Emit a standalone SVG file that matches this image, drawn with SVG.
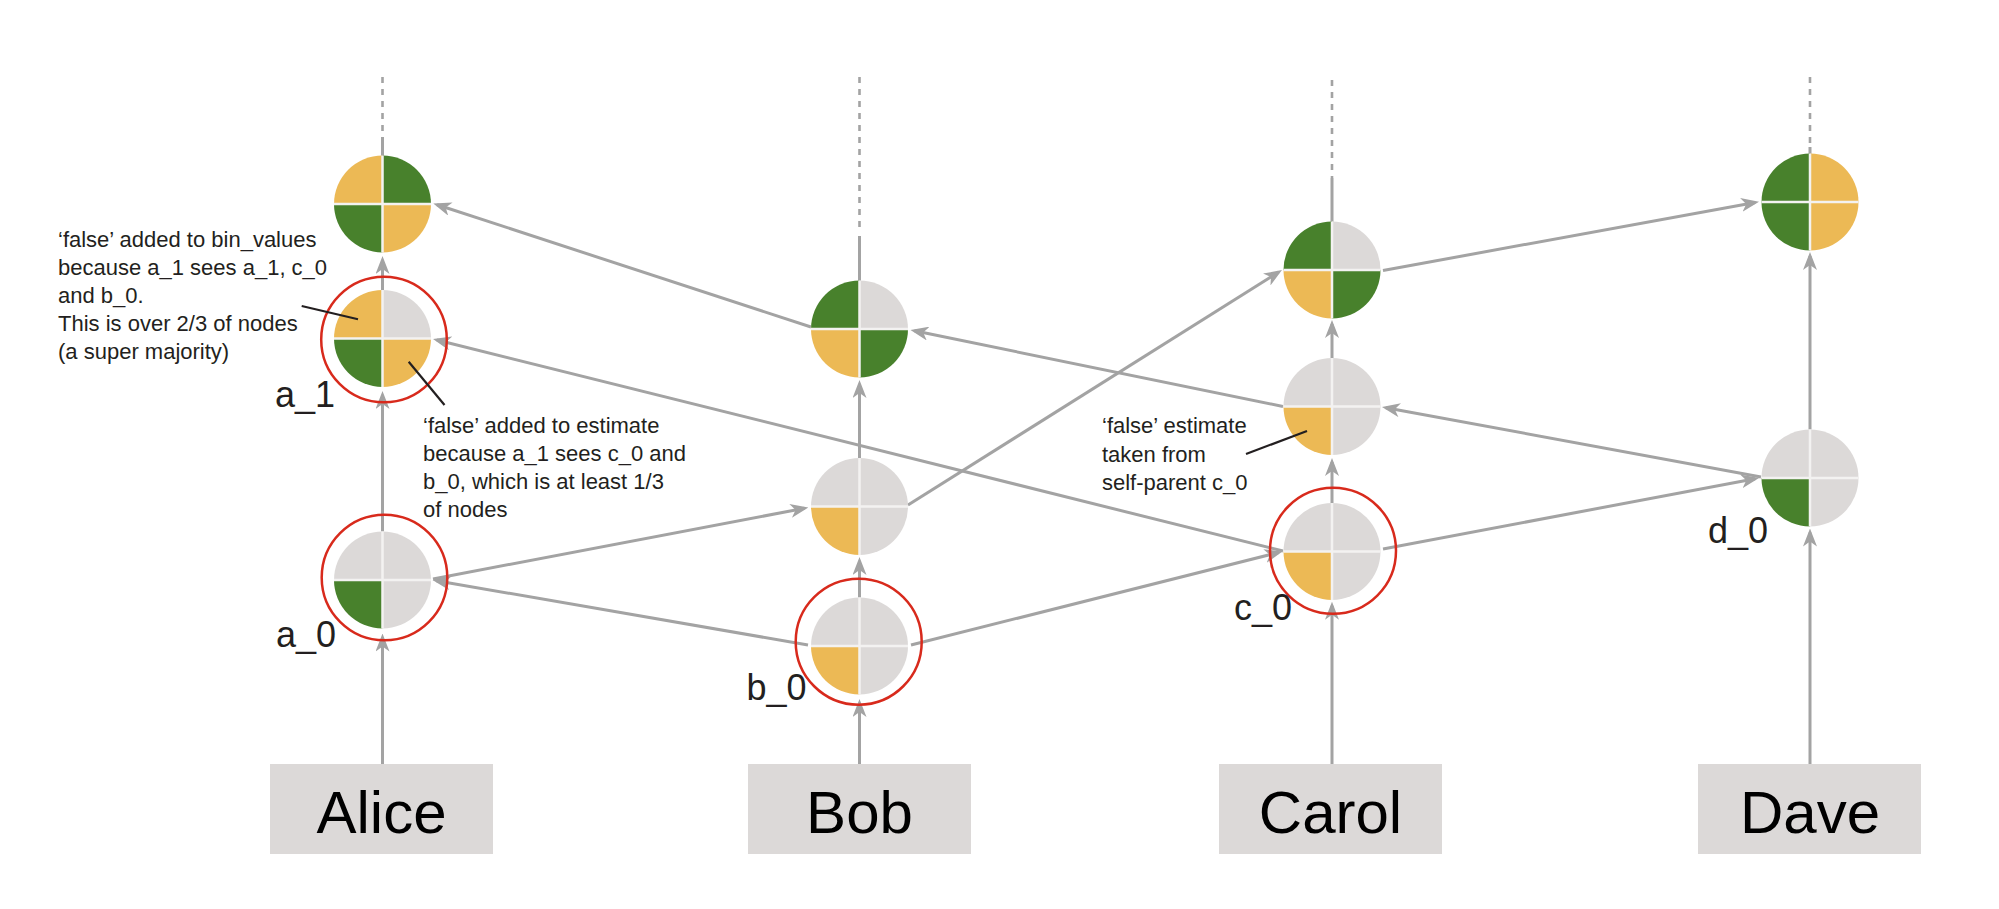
<svg xmlns="http://www.w3.org/2000/svg" width="1999" height="909" viewBox="0 0 1999 909">
<style>
.bg{fill:#ffffff}
.box{fill:#dcd9d8}
.boxtxt{font-family:"Liberation Sans",Arial,sans-serif;font-size:60px;fill:#000000;text-anchor:middle}
.lbl{font-family:"Liberation Sans",Arial,sans-serif;font-size:36px;fill:#231f20}
.note{font-family:"Liberation Sans",Arial,sans-serif;font-size:22px;fill:#231f20}
.edge{stroke:#a3a3a3;stroke-width:3;fill:none}
.arr{marker-end:url(#ah)}
.dash{stroke:#a3a3a3;stroke-width:2.6;stroke-dasharray:6 6;fill:none}
.gold{fill:#ecb955}
.green{fill:#48812c}
.grey{fill:#dcd9d8}
.ring{fill:none;stroke:#d82a1c;stroke-width:2.5}
.call{stroke:#231f20;stroke-width:2.2;fill:none}
</style>
<defs>
<marker id="ah" markerUnits="userSpaceOnUse" viewBox="0 0 18 14" refX="14" refY="7" markerWidth="18" markerHeight="14" orient="auto">
<path d="M0,0 L18,7 L0,14 L5,7 Z" fill="#a3a3a3"/>
</marker>
<path id="qtl" d="M0,0 L-48.5,0 A48.5,48.5 0 0 1 0,-48.5 Z"/>
<path id="qtr" d="M0,0 L0,-48.5 A48.5,48.5 0 0 1 48.5,0 Z"/>
<path id="qbr" d="M0,0 L48.5,0 A48.5,48.5 0 0 1 0,48.5 Z"/>
<path id="qbl" d="M0,0 L0,48.5 A48.5,48.5 0 0 1 -48.5,0 Z"/>
<path id="cross" d="M-48.5,0 H48.5 M0,-48.5 V48.5" stroke="#f3f2f1" stroke-width="2.5" fill="none"/>
</defs>
<rect class="bg" x="0" y="0" width="1999" height="909"/>

<g id="connectors">
<!-- dashed continuations -->
<line class="dash" x1="382.5" y1="77" x2="382.5" y2="137"/>
<line class="edge" x1="382.5" y1="137" x2="382.5" y2="156"/>
<line class="dash" x1="859.5" y1="77" x2="859.5" y2="232"/>
<line class="edge" x1="859.5" y1="236" x2="859.5" y2="281"/>
<line class="dash" x1="1332" y1="80" x2="1332" y2="178"/>
<line class="edge" x1="1332" y1="178" x2="1332" y2="222"/>
<line class="dash" x1="1810" y1="77" x2="1810" y2="147"/>
<line class="edge" x1="1810" y1="147" x2="1810" y2="154"/>
<!-- vertical self-parent arrows -->
<line class="edge arr" x1="382.5" y1="764" x2="382.5" y2="637.5"/>
<line class="edge arr" x1="382.5" y1="531.5" x2="382.5" y2="395"/>
<line class="edge arr" x1="382.5" y1="290" x2="382.5" y2="260"/>
<line class="edge arr" x1="859.5" y1="764" x2="859.5" y2="703"/>
<line class="edge arr" x1="859.5" y1="597.5" x2="859.5" y2="561"/>
<line class="edge arr" x1="859.5" y1="458" x2="859.5" y2="384"/>
<line class="edge arr" x1="1332" y1="764" x2="1332" y2="605.7"/>
<line class="edge arr" x1="1332" y1="503" x2="1332" y2="462"/>
<line class="edge arr" x1="1332" y1="358" x2="1332" y2="324"/>
<line class="edge arr" x1="1810" y1="764" x2="1810" y2="532.5"/>
<line class="edge arr" x1="1810" y1="429.5" x2="1810" y2="256"/>
<!-- cross arrows -->
<line class="edge arr" x1="808" y1="645" x2="436.4" y2="580.7"/>
<line class="edge arr" x1="433" y1="579" x2="804.4" y2="508.3"/>
<line class="edge arr" x1="911" y1="645" x2="1278.6" y2="552.5"/>
<line class="edge arr" x1="1283" y1="551" x2="436.9" y2="340"/>
<line class="edge arr" x1="1383" y1="549" x2="1755.1" y2="478.7"/>
<line class="edge arr" x1="1761" y1="477" x2="1385.9" y2="407.7"/>
<line class="edge arr" x1="1283" y1="406.5" x2="914.4" y2="330.8"/>
<line class="edge arr" x1="811" y1="327" x2="437.1" y2="204.7"/>
<line class="edge arr" x1="908" y1="505" x2="1278.6" y2="272.1"/>
<line class="edge arr" x1="1383" y1="270.5" x2="1755.1" y2="202.4"/>
</g>

<g id="box-alice"><rect class="box" x="270" y="764" width="223" height="90"/><text class="boxtxt" x="381.5" y="833">Alice</text></g>
<g id="box-bob"><rect class="box" x="748" y="764" width="223" height="90"/><text class="boxtxt" x="859.5" y="833">Bob</text></g>
<g id="box-carol"><rect class="box" x="1219" y="764" width="223" height="90"/><text class="boxtxt" x="1330.5" y="833">Carol</text></g>
<g id="box-dave"><rect class="box" x="1698" y="764" width="223" height="90"/><text class="boxtxt" x="1810" y="833">Dave</text></g>

<g id="a_0" transform="translate(382.5,580)">
<use href="#qtl" class="grey"/><use href="#qtr" class="grey"/><use href="#qbl" class="green"/><use href="#qbr" class="grey"/><use href="#cross"/>
</g>
<g id="a_1" transform="translate(382.5,338.5)">
<use href="#qtl" class="gold"/><use href="#qtr" class="grey"/><use href="#qbl" class="green"/><use href="#qbr" class="gold"/><use href="#cross"/>
</g>
<g id="a_2" transform="translate(382.5,204)">
<use href="#qtl" class="gold"/><use href="#qtr" class="green"/><use href="#qbl" class="green"/><use href="#qbr" class="gold"/><use href="#cross"/>
</g>
<g id="b_0" transform="translate(859.5,646)">
<use href="#qtl" class="grey"/><use href="#qtr" class="grey"/><use href="#qbl" class="gold"/><use href="#qbr" class="grey"/><use href="#cross"/>
</g>
<g id="b_1" transform="translate(859.5,506.5)">
<use href="#qtl" class="grey"/><use href="#qtr" class="grey"/><use href="#qbl" class="gold"/><use href="#qbr" class="grey"/><use href="#cross"/>
</g>
<g id="b_2" transform="translate(859.5,329)">
<use href="#qtl" class="green"/><use href="#qtr" class="grey"/><use href="#qbl" class="gold"/><use href="#qbr" class="green"/><use href="#cross"/>
</g>
<g id="c_0" transform="translate(1332,551.5)">
<use href="#qtl" class="grey"/><use href="#qtr" class="grey"/><use href="#qbl" class="gold"/><use href="#qbr" class="grey"/><use href="#cross"/>
</g>
<g id="c_1" transform="translate(1332,406.5)">
<use href="#qtl" class="grey"/><use href="#qtr" class="grey"/><use href="#qbl" class="gold"/><use href="#qbr" class="grey"/><use href="#cross"/>
</g>
<g id="c_2" transform="translate(1332,270)">
<use href="#qtl" class="green"/><use href="#qtr" class="grey"/><use href="#qbl" class="gold"/><use href="#qbr" class="green"/><use href="#cross"/>
</g>
<g id="d_0" transform="translate(1810,478)">
<use href="#qtl" class="grey"/><use href="#qtr" class="grey"/><use href="#qbl" class="green"/><use href="#qbr" class="grey"/><use href="#cross"/>
</g>
<g id="d_2" transform="translate(1810,202)">
<use href="#qtl" class="green"/><use href="#qtr" class="gold"/><use href="#qbl" class="green"/><use href="#qbr" class="gold"/><use href="#cross"/>
</g>

<g id="highlights">
<circle class="ring" cx="384" cy="339.5" r="62.8"/>
<circle class="ring" cx="384.5" cy="577.5" r="62.8"/>
<circle class="ring" cx="858.7" cy="641.7" r="63"/>
<circle class="ring" cx="1333" cy="550.8" r="63"/>
</g>

<g id="labels">
<text class="lbl" x="275" y="407">a_1</text>
<text class="lbl" x="276" y="647">a_0</text>
<text class="lbl" x="746.5" y="700">b_0</text>
<text class="lbl" x="1234" y="620">c_0</text>
<text class="lbl" x="1708" y="543">d_0</text>
</g>

<g id="note-bin-values">
<line class="call" x1="301.7" y1="306" x2="358" y2="319.3"/>
<text class="note" x="58" y="247">‘false’ added to bin_values</text>
<text class="note" x="58" y="275">because a_1 sees a_1, c_0</text>
<text class="note" x="58" y="303">and b_0.</text>
<text class="note" x="58" y="331">This is over 2/3 of nodes</text>
<text class="note" x="58" y="359">(a super majority)</text>
</g>
<g id="note-estimate">
<line class="call" x1="408.7" y1="361.7" x2="444.5" y2="405"/>
<text class="note" x="423" y="433">‘false’ added to estimate</text>
<text class="note" x="423" y="461">because a_1 sees c_0 and</text>
<text class="note" x="423" y="489">b_0, which is at least 1/3</text>
<text class="note" x="423" y="517">of nodes</text>
</g>
<g id="note-self-parent">
<line class="call" x1="1246" y1="454" x2="1307" y2="431"/>
<text class="note" x="1102" y="433">‘false’ estimate</text>
<text class="note" x="1102" y="462">taken from</text>
<text class="note" x="1102" y="490">self-parent c_0</text>
</g>
</svg>
